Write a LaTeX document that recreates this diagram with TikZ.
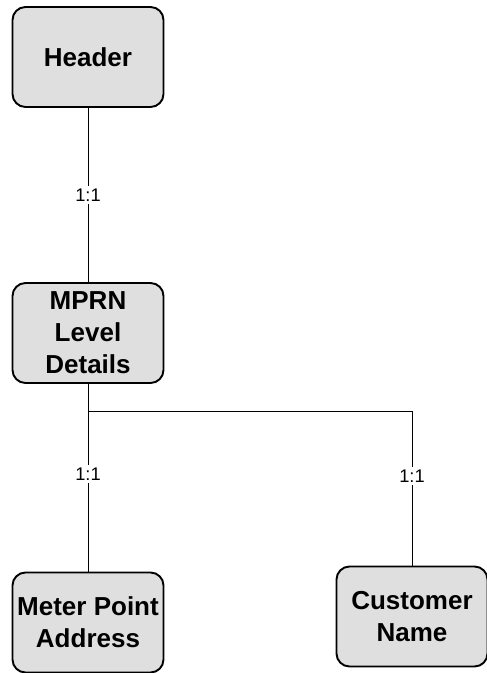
\documentclass[tikz,border=0pt]{standalone}
\usepackage{fontspec}
\setmainfont{Liberation Sans}
\tikzset{
  entity/.style={draw,line width=1.1pt,rounded corners=0.26cm,fill=gray!25,
    minimum width=3.02cm,minimum height=2cm,inner sep=0pt,align=center,
    font=\bfseries\fontsize{14.8}{18.2}\selectfont},
  link/.style={line width=0.45pt},
  card/.style={fill=white,inner sep=1.5pt,font=\fontsize{10.4}{12}\selectfont}
}
\begin{document}
\begin{tikzpicture}
            \useasboundingbox (0,0) rectangle (9.72,-13.46);
            \node[entity] (H) at (1.76, -1.14) {Header};
            \node[entity] (M) at (1.76, -6.66) {MPRN\\ Level\\ Details};
            \node[entity] (A) at (1.76, -12.45) {Meter Point\\ Address};
            \node[entity] (C) at (8.24, -12.33) {Customer\\ Name};
            \coordinate (J) at (1.76, -8.22);

            \draw[link] (H) to node[card] {1:1} (M);
            \draw[link] (M) to node[card,pos=0.48] {1:1} (A);
            \draw[link] (J) -| node[card,pos=0.71] {1:1} (C);
        \end{tikzpicture}
\end{document}
